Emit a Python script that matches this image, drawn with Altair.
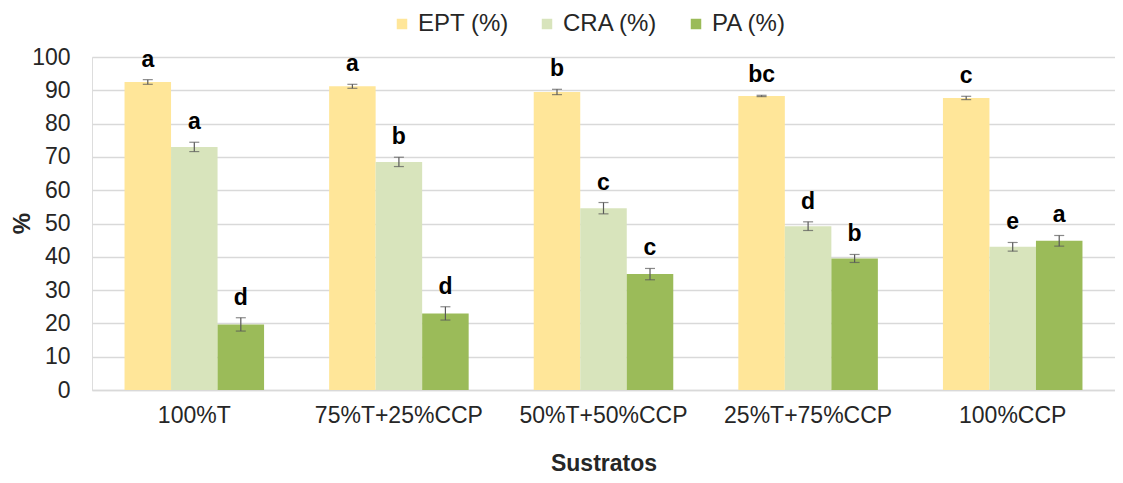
import altair as alt
import pandas as pd

sustratos = ["100%T", "75%T+25%CCP", "50%T+50%CCP", "25%T+75%CCP", "100%CCP"]
series = ["EPT (%)", "CRA (%)", "PA (%)"]
colors = ["#FFE699", "#D8E4BC", "#9BBB59"]

ept = [92.5, 91.2, 89.5, 88.3, 87.7]
cra = [73.0, 68.5, 54.6, 49.2, 43.0]
pa = [19.7, 23.0, 34.8, 39.5, 44.8]

ept_err = [0.7, 0.6, 0.8, 0.2, 0.5]
cra_err = [1.4, 1.4, 1.7, 1.3, 1.3]
pa_err = [2.0, 2.0, 1.7, 1.2, 1.6]

ept_lbl = ["a", "a", "b", "bc", "c"]
cra_lbl = ["a", "b", "c", "d", "e"]
pa_lbl = ["d", "d", "c", "b", "a"]

y_ticks = [0, 10, 20, 30, 40, 50, 60, 70, 80, 90, 100]

rows = []
for s, vals, errs, lbls in zip(series, [ept, cra, pa], [ept_err, cra_err, pa_err], [ept_lbl, cra_lbl, pa_lbl]):
    for c, v, e, l in zip(sustratos, vals, errs, lbls):
        rows.append({"Sustratos": c, "serie": s, "valor": v, "lo": v - e, "hi": v + e, "letra": l})
df = pd.DataFrame(rows)

FONT = "Liberation Sans"
TXT = "#262626"

x = alt.X("Sustratos:N", sort=sustratos,
          scale=alt.Scale(paddingInner=0.318, paddingOuter=0.159),
          axis=alt.Axis(title="Sustratos", labelAngle=0, labelFontSize=23, labelColor=TXT,
                        titleFontSize=23, titleFontWeight="bold", titleColor=TXT,
                        labelPadding=14, titlePadding=25, ticks=False,
                        domainColor="#D9D9D9", domainWidth=1.5, labelFont=FONT, titleFont=FONT))
xo = alt.XOffset("serie:N", sort=series, scale=alt.Scale(paddingInner=0, paddingOuter=0))
yscale = alt.Scale(domain=[0, 100], nice=False)
yaxis = alt.Axis(title="%", values=y_ticks, tickCount=11, labelOverlap=False,
                 labelFontSize=23, labelColor=TXT,
                 titleFontSize=24, titleFontWeight="bold", titleColor=TXT,
                 titleX=-58, titleY=166,
                 ticks=False, domain=False, labelPadding=22,
                 gridColor="#D9D9D9", gridWidth=1.5, labelFont=FONT, titleFont=FONT)

base = alt.Chart(df)

bars = base.mark_bar().encode(
    x=x, xOffset=xo,
    y=alt.Y("valor:Q", scale=yscale, axis=yaxis, title="%"),
    color=alt.Color("serie:N", sort=series, scale=alt.Scale(domain=series, range=colors),
                    legend=alt.Legend(title=None, orient="none", direction="horizontal",
                                      legendX=298, legendY=-45, symbolType="square", symbolSize=110,
                                      symbolStrokeWidth=0, labelFontSize=24, labelFont=FONT,
                                      labelColor=TXT, columnPadding=26, symbolOffset=0)),
)

rule = base.mark_rule(color="#595959", strokeWidth=1.2).encode(
    x=x, xOffset=xo, y=alt.Y("lo:Q", scale=yscale, axis=yaxis, title="%"), y2="hi:Q")
cap_lo = base.mark_tick(color="#595959", thickness=1.2, size=10, orient="horizontal").encode(
    x=x, xOffset=xo, y=alt.Y("lo:Q", scale=yscale, axis=yaxis, title="%"))
cap_hi = base.mark_tick(color="#595959", thickness=1.2, size=10, orient="horizontal").encode(
    x=x, xOffset=xo, y=alt.Y("hi:Q", scale=yscale, axis=yaxis, title="%"))

text = base.mark_text(fontSize=23, fontWeight="bold", font=FONT, color="#000000", dy=-13,
                      baseline="alphabetic").encode(
    x=x, xOffset=xo, y=alt.Y("hi:Q", scale=yscale, axis=yaxis, title="%"), text="letra:N")

chart = alt.layer(bars, rule, cap_lo, cap_hi, text).properties(
    width=1023, height=333, autosize="none",
    padding={"left": 84, "top": 49, "right": 0, "bottom": 85},
).configure_view(stroke=None).configure(font=FONT)

chart.save("out.html", embed_options={"renderer": "svg", "actions": False})
